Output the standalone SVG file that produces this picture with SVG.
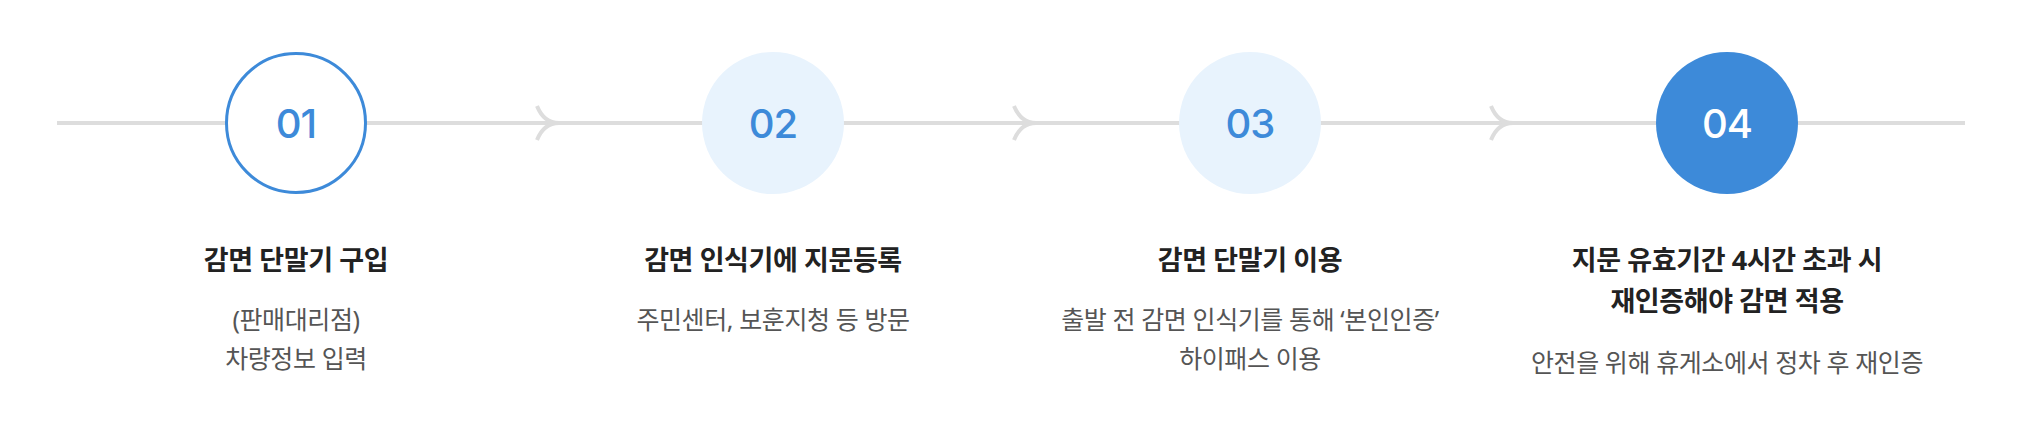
<svg xmlns="http://www.w3.org/2000/svg" width="2026" height="424" viewBox="0 0 2026 424">
<style>
.bg{fill:#ffffff}
.track{stroke:#dddddd;stroke-width:4;fill:none}
.chev{stroke:#dddddd;stroke-width:4;fill:none}
.num{font-family:Inter,"Noto Sans",sans-serif;font-size:40px;font-weight:500;text-anchor:middle;letter-spacing:-1px}
.title{font-family:"Noto Sans","Noto Sans CJK KR",sans-serif;font-size:27px;font-weight:700;fill:#222222;text-anchor:middle;letter-spacing:-0.4px}
.desc{font-family:"Noto Sans","Noto Sans CJK KR",sans-serif;font-size:25px;font-weight:400;fill:#555555;text-anchor:middle;letter-spacing:-0.4px}
.c-out{fill:#ffffff;stroke:#3d8ad9;stroke-width:3}
.c-light{fill:#e8f3fd}
.c-full{fill:#3d8ad9}
.blue{fill:#3d8ad9}
.white{fill:#ffffff}
</style>
<rect class="bg" x="0" y="0" width="2026" height="424"/>
<g id="connectors">
<line class="track" x1="57" y1="123" x2="1965" y2="123"/>
<path class="chev" d="M537,106 C541,116 548,123 559,123 C548,123 541,130 537,140"/>
<path class="chev" d="M1014,106 C1018,116 1025,123 1036,123 C1025,123 1018,130 1014,140"/>
<path class="chev" d="M1491,106 C1495,116 1502,123 1513,123 C1502,123 1495,130 1491,140"/>
</g>
<g id="step1">
<circle class="c-out" cx="296" cy="123" r="69.5"/>
<text class="num blue" x="296" y="138">01</text>
<text class="title" x="296" y="270">감면 단말기 구입</text>
<text class="desc" x="296" y="329">(판매대리점)</text>
<text class="desc" x="296" y="368">차량정보 입력</text>
</g>
<g id="step2">
<circle class="c-light" cx="773" cy="123" r="71"/>
<text class="num blue" x="773" y="138">02</text>
<text class="title" x="773" y="270">감면 인식기에 지문등록</text>
<text class="desc" x="773" y="329">주민센터, 보훈지청 등 방문</text>
</g>
<g id="step3">
<circle class="c-light" cx="1250" cy="123" r="71"/>
<text class="num blue" x="1250" y="138">03</text>
<text class="title" x="1250" y="270">감면 단말기 이용</text>
<text class="desc" x="1250" y="329">출발 전 감면 인식기를 통해 ‘본인인증’</text>
<text class="desc" x="1250" y="368">하이패스 이용</text>
</g>
<g id="step4">
<circle class="c-full" cx="1727" cy="123" r="71"/>
<text class="num white" x="1727" y="138">04</text>
<text class="title" x="1727" y="270">지문 유효기간 4시간 초과 시</text>
<text class="title" x="1727" y="311">재인증해야 감면 적용</text>
<text class="desc" x="1727" y="372">안전을 위해 휴게소에서 정차 후 재인증</text>
</g>
</svg>
